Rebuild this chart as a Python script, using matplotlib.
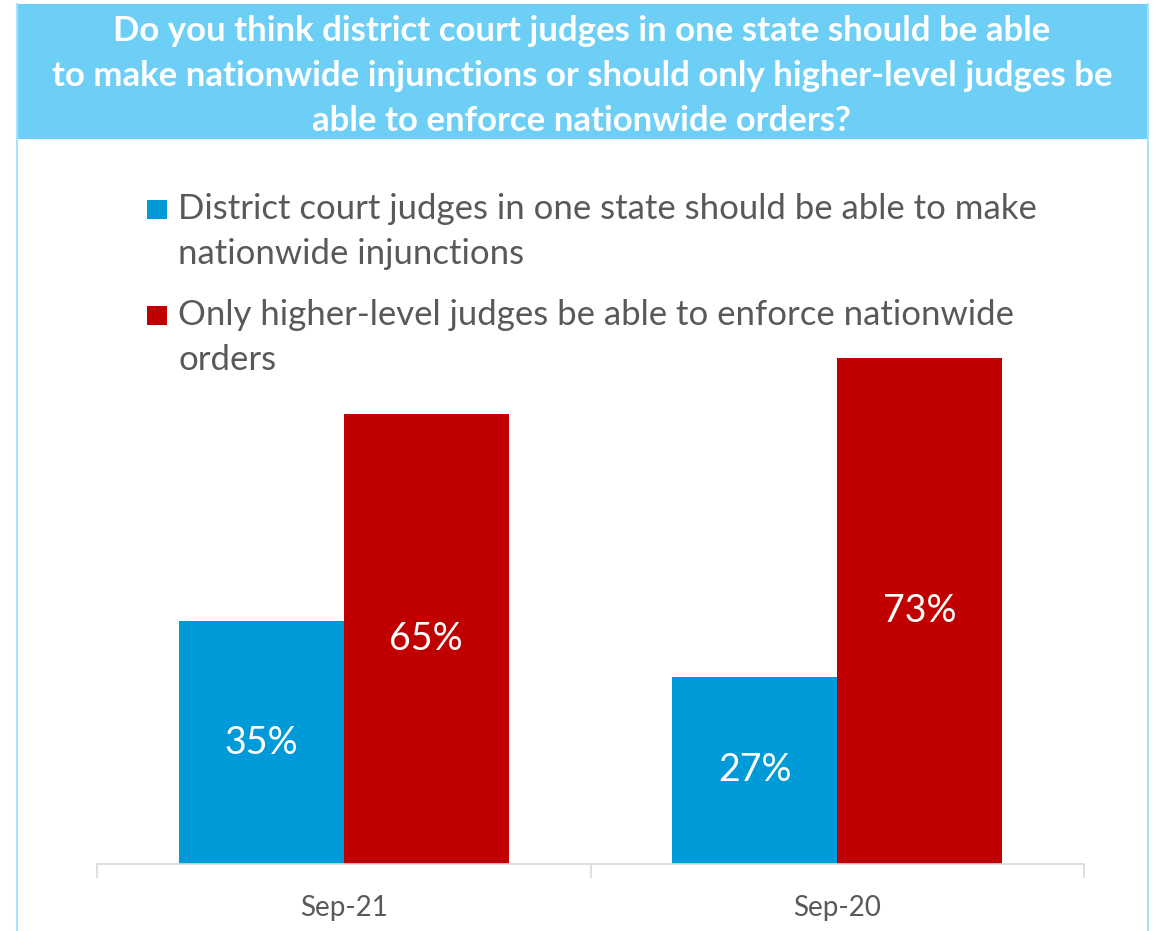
import matplotlib
matplotlib.use("Agg")
import numpy as np
import matplotlib.pyplot as plt
from matplotlib.patches import Rectangle

TITLE = ("Do you think district court judges in one state should be able\n"
         "to make nationwide injunctions or should only higher-level judges be\n"
         "able to enforce nationwide orders?")
CATEGORIES = ["Sep-21", "Sep-20"]
SERIES = ["District court judges in one state should be able to make\nnationwide injunctions",
          "Only higher-level judges be able to enforce nationwide\norders"]
DISTRICT = [35, 27]
HIGHER = [65, 73]
COLORS = ["#009ad8", "#c00000"]

W, H = 1157, 931
plt.rcParams["font.family"] = ["Lato", "DejaVu Sans"]
fig = plt.figure(figsize=(W / 100, H / 100), dpi=100)

def fx(px): return px / W
def fy(py): return 1 - py / H

# frame + title band
fig.add_artist(Rectangle((fx(17), fy(139)), fx(1148) - fx(17), fy(4) - fy(139),
                         transform=fig.transFigure, color="#6dcff6", lw=0))
for x in (17, 1148):
    fig.add_artist(plt.Line2D([fx(x), fx(x)], [0, fy(4)], transform=fig.transFigure,
                              color="#a8e2f8", lw=1.5))
fig.text(fx(582), fy(76), TITLE, ha="center", va="center", color="white",
         fontsize=25, fontweight="bold", linespacing=1.5)

# bars
ax = fig.add_axes([fx(97), fy(864), fx(1084) - fx(97), fy(150) - fy(864)])
x = np.arange(len(CATEGORIES))
w = 0.334
b1 = ax.bar(x - w / 2, DISTRICT, w, color=COLORS[0])
b2 = ax.bar(x + w / 2, HIGHER, w, color=COLORS[1])
for bars in (b1, b2):
    ax.bar_label(bars, labels=[f"{v}%" for v in bars.datavalues], label_type="center",
                 color="white", fontsize=27)
ax.set_xlim(-0.5, 1.5)
ax.set_ylim(0, (864 - 150) / 6.93)
for s in ("top", "left", "right"):
    ax.spines[s].set_visible(False)
ax.spines["bottom"].set_color("#d9d9d9")
ax.spines["bottom"].set_linewidth(1.2)
ax.set_yticks([])
ax.set_xticks(x)
ax.set_xticklabels(CATEGORIES, fontsize=20, color="#595959")
ax.tick_params(axis="x", which="major", length=0, pad=22)
ax.set_xticks([-0.5, 0.5, 1.5], minor=True)
ax.tick_params(axis="x", which="minor", length=10, color="#d9d9d9", width=1.2)

# legend
for i, (lab, col) in enumerate(zip(SERIES, COLORS)):
    top = 200 + i * 106
    fig.add_artist(Rectangle((fx(147), fy(top + 19)), fx(20), fy(top) - fy(top + 19),
                             transform=fig.transFigure, color=col, lw=0))
    fig.text(fx(178), fy(top - 7), lab, ha="left", va="top", color="#595959",
             fontsize=25, linespacing=1.5)

fig.savefig("out.png", dpi=100)
